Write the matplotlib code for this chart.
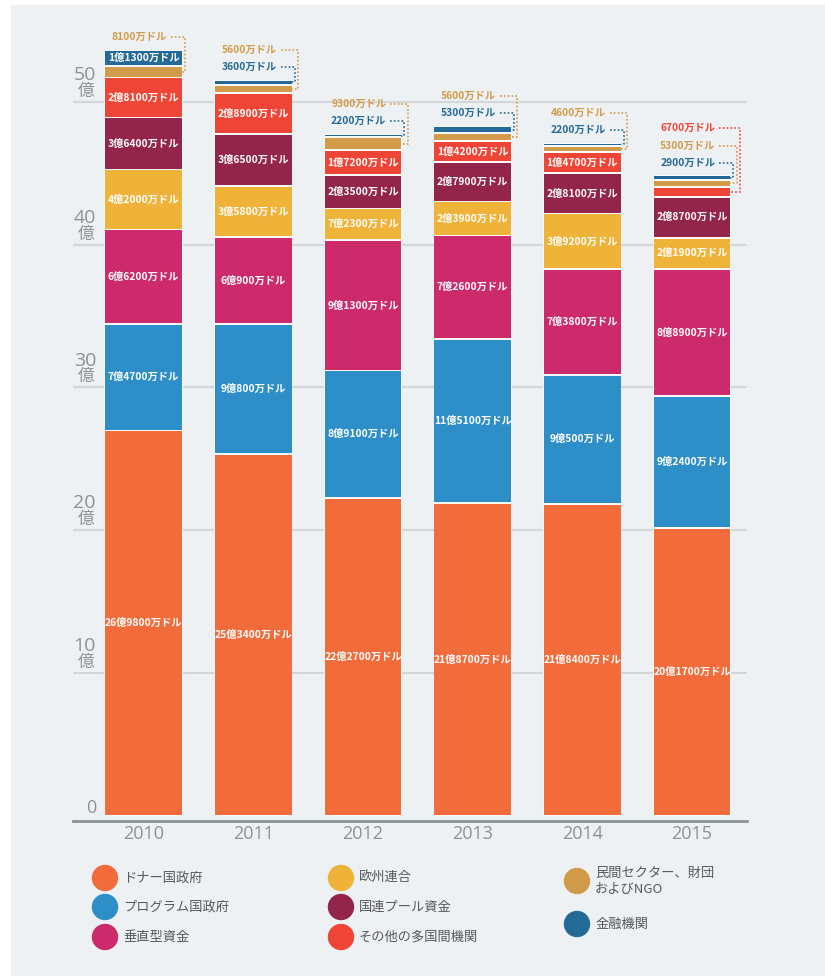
import numpy as np
import matplotlib.pyplot as plt
import matplotlib.transforms as mtransforms
from matplotlib.patches import Circle, Rectangle

plt.rcParams['font.family'] = ['Noto Sans CJK JP', 'DejaVu Sans']

# --- data (万ドル) ---
years = ["2010", "2011", "2012", "2013", "2014", "2015"]

donor_gov = [269800, 253400, 222700, 218700, 218400, 201700]
program_gov = [74700, 90800, 89100, 115100, 90500, 92400]
vertical_funds = [66200, 60900, 91300, 72600, 73800, 88900]
eu = [42000, 35800, 22300, 23900, 39200, 21900]
un_pooled = [36400, 36500, 23500, 27900, 28100, 28700]
other_multi = [28100, 28900, 17200, 14200, 14700, 6700]
private_ngo = [8100, 5600, 9300, 5600, 4600, 5300]
financial = [11300, 3600, 2200, 5300, 2200, 2900]

series_names = ["ドナー国政府", "プログラム国政府", "垂直型資金", "欧州連合",
                "国連プール資金", "その他の多国間機関",
                "民間セクター、財団\nおよびNGO", "金融機関"]
colors = ["#f26b3a", "#2e8fc8", "#cc2a6a", "#efb33a",
          "#93244a", "#ef4536", "#d29b4a", "#246a98"]

# label as printed in the original graphic
label_fix = {(3, 2): "7億2300万ドル"}

BG = "#eef1f3"
GRID = "#d4d7da"
AXIS = "#8a9399"
TICK = "#8b9298"
LEG_TXT = "#54595e"


def fmt(v):
    oku, man = divmod(v, 10000)
    if oku:
        return f"{oku}億{man}万ドル"
    return f"{man}万ドル"


raw = np.array([donor_gov, program_gov, vertical_funds, eu, un_pooled,
                other_multi, private_ngo, financial])
data = raw / 10000.0
x = np.arange(len(years))
totals = data.sum(axis=0)

fig = plt.figure(figsize=(8.25, 9.76), dpi=100)
fig.patch.set_facecolor("white")

# background panel + legend, drawn in pixel coordinates
bg = fig.add_axes([0, 0, 1, 1])
bg.set_xlim(0, 825)
bg.set_ylim(976, 0)
bg.axis("off")
bg.add_patch(Rectangle((11, 5), 814, 971, color=BG, zorder=0))

# main axes: pixel layout converted to figure fractions
ax_left, ax_right = 73, 747
ax_bottom, ax_top = 820.7, 18
ax = fig.add_axes([ax_left / 825, (976 - ax_bottom) / 976,
                   (ax_right - ax_left) / 825, (ax_bottom - ax_top) / 976])
ax.set_zorder(1)
ax.patch.set_visible(False)

pxu_x = 109.7          # pixels per x unit
pxu_y = 14.27          # pixels per 億
ax.set_xlim(-(143.5 - ax_left) / pxu_x, 5 + (ax_right - 692) / pxu_x)
ax.set_ylim(-(ax_bottom - 815.5) / pxu_y, (815.5 - ax_top) / pxu_y)

bw = 0.70
gap = 0.13

for v in range(10, 60, 10):
    ax.axhline(v, color=GRID, lw=1.5, zorder=1)

# light backing so gaps between segments look white
ax.bar(x, totals, width=bw + 0.012, color="#f8f9fa", zorder=2)

bottoms = np.zeros_like(data)
bottom = np.zeros(len(years))
for i, vals in enumerate(data):
    bottoms[i] = bottom
    ax.bar(x, vals - gap, width=bw, bottom=bottom + gap / 2,
           color=colors[i], zorder=3)
    for j, v in enumerate(vals):
        if v >= 1.0:
            lab = label_fix.get((i, j), fmt(raw[i, j]))
            ax.text(x[j], bottom[j] + v / 2, lab, ha="center", va="center",
                    color="white", fontsize=7.4, fontweight="bold", zorder=4)
    bottom = bottom + vals

# small segments: labels above the bar with dotted leaders
for j in range(len(years)):
    small = [i for i in range(len(data) - 1, -1, -1) if data[i, j] < 1.0]
    for k, i in enumerate(small):
        ly = totals[j] + 0.9 + 1.2 * k
        tx = x[j] + bw / 2 - 15 / pxu_x
        ax.text(tx, ly, fmt(raw[i, j]), ha="right", va="center",
                color=colors[i], fontsize=7.4, fontweight="bold", zorder=4)
        lx = x[j] + bw / 2 + (3 + 3.5 * k) / pxu_x
        mid = bottoms[i, j] + data[i, j] / 2
        ax.plot([tx + 4 / pxu_x, lx, lx, x[j] + bw / 2], [ly, ly, mid, mid],
                color=colors[i], lw=1.2, linestyle=(0, (1, 1.3)),
                zorder=4, clip_on=False)

# y labels: number over 億
tr = mtransforms.blended_transform_factory(fig.transFigure, ax.transData)
for v in range(10, 60, 10):
    ax.text(96 / 825, v + 1.52, str(v), transform=tr, ha="right", va="baseline",
            fontsize=14, color=TICK, family=["Open Sans", "DejaVu Sans"])
    ax.text(86 / 825, v + 0.42, "億", transform=tr, ha="center", va="baseline",
            fontsize=12, color=TICK)
ax.text(96 / 825, 0.17, "0", transform=tr, ha="right", va="baseline",
        fontsize=13, color=TICK, family=["Open Sans", "DejaVu Sans"])

ax.set_yticks([])
ax.set_xticks(x)
ax.set_xticklabels(years, fontsize=13, color=TICK, family=["Open Sans", "DejaVu Sans"])
ax.tick_params(axis="x", length=0, pad=3)
for s in ["left", "right", "top"]:
    ax.spines[s].set_visible(False)
ax.spines["bottom"].set_color(AXIS)
ax.spines["bottom"].set_linewidth(2)

# legend
col_x = [105, 341, 577]
rows = [[878, 907, 937], [878, 907, 937], [881, 924]]
idx = 0
for c, ys in enumerate(rows):
    for yy in ys:
        bg.add_patch(Circle((col_x[c], yy), 12.5, color=colors[idx], zorder=2))
        bg.text(col_x[c] + 18, yy, series_names[idx], ha="left", va="center",
                fontsize=9.5, color=LEG_TXT, linespacing=1.3)
        idx += 1

fig.savefig("out.png", dpi=100)
